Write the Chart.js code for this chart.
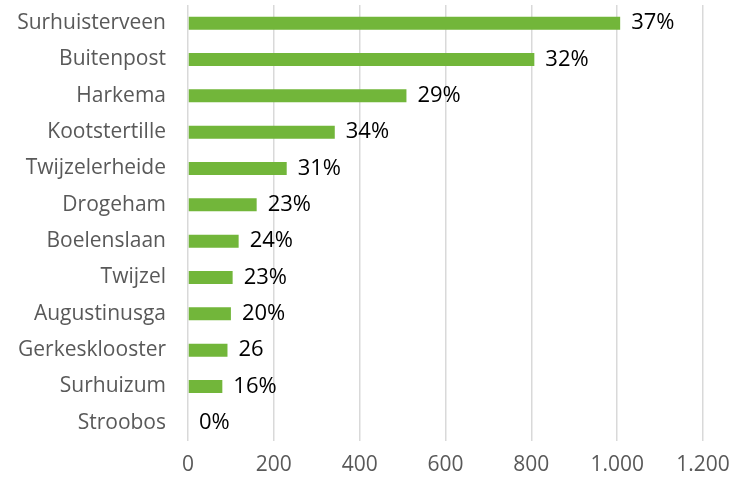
<!DOCTYPE html>
<html>
<head>
<meta charset="utf-8">
<script src="https://cdn.jsdelivr.net/npm/chart.js@4/dist/chart.umd.min.js"></script>
<style>
html,body{margin:0;padding:0;background:#fff;}
#wrap{width:741px;height:481px;}
</style>
</head>
<body>
<div id="wrap"><canvas id="c" width="741" height="481"></canvas></div>
<script>
const categories = ["Surhuisterveen","Buitenpost","Harkema","Kootstertille","Twijzelerheide","Drogeham","Boelenslaan","Twijzel","Augustinusga","Gerkesklooster","Surhuizum","Stroobos"];
const values = [1007, 807, 509, 342, 230, 160, 118, 104, 100, 92, 80, 0];
const valueLabels = ["37%","32%","29%","34%","31%","23%","24%","23%","20%","26","16%","0%"];
const xTicks = [0, 200, 400, 600, 800, 1000, 1200];

const labelPlugin = {
  id: 'barLabels',
  afterDatasetsDraw(chart) {
    const ctx = chart.ctx;
    const meta = chart.getDatasetMeta(0);
    ctx.save();
    ctx.font = '22px "Open Sans"';
    ctx.fillStyle = '#000';
    ctx.textAlign = 'left';
    ctx.textBaseline = 'middle';
    meta.data.forEach((bar, i) => {
      ctx.fillText(valueLabels[i], bar.x + 11, bar.y);
    });
    ctx.restore();
  }
};

new Chart(document.getElementById('c'), {
  type: 'bar',
  data: {
    labels: categories,
    datasets: [{
      data: values,
      backgroundColor: '#72B63A',
      borderWidth: 0,
      barPercentage: 0.36,
      categoryPercentage: 1
    }]
  },
  options: {
    indexAxis: 'y',
    responsive: false,
    animation: false,
    layout: { padding: { top: 5, right: 38, left: 0, bottom: 0 } },
    plugins: { legend: { display: false }, tooltip: { enabled: false } },
    scales: {
      x: {
        min: 0, max: 1200,
        afterBuildTicks(axis) { axis.ticks = xTicks.map(v => ({ value: v })); },
        grid: { color: '#D9D9D9', lineWidth: 1.5, drawTicks: false },
        border: { display: false },
        ticks: {
          color: '#595959',
          font: { family: 'Open Sans', size: 21 },
          padding: 11,
          callback: v => v.toLocaleString('de-DE')
        },
        afterFit(axis) { axis.height = 40; axis.paddingLeft = 0; axis.paddingRight = 0; }
      },
      y: {
        grid: { display: false, drawTicks: false },
        border: { display: false },
        ticks: {
          color: '#595959',
          font: { family: 'Open Sans', size: 21 },
          padding: 22
        },
        afterFit(axis) { axis.width = 188; axis.paddingTop = 0; axis.paddingBottom = 0; }
      }
    }
  },
  plugins: [labelPlugin]
});
</script>
</body>
</html>
